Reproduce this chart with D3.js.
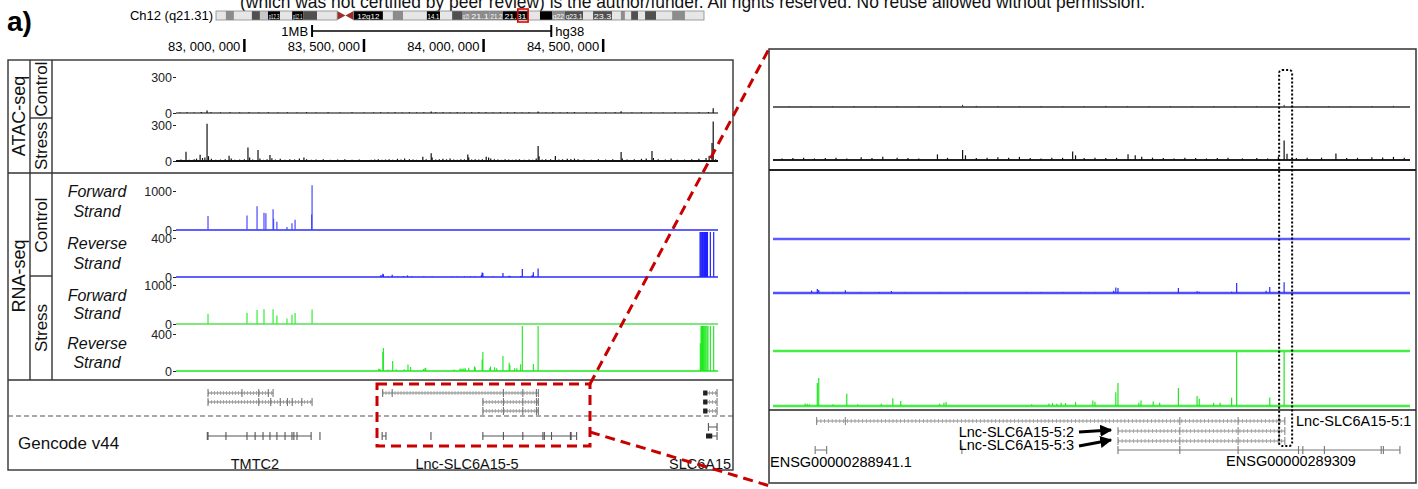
<!DOCTYPE html>
<html>
<head>
<meta charset="utf-8">
<script src="https://cdn.jsdelivr.net/npm/d3@7"></script>
<style>
  body { margin: 0; background: #fff; }
  svg text { font-family: "Liberation Sans", Arial, Helvetica, sans-serif; }
</style>
</head>
<body>
<svg id="chart" width="1418" height="489"></svg>
<script>
// ---- data (positions in Mb on chr12, hg38) ----
const regionMb = [82.71, 84.98];
const zoomMb = [83.516, 84.403];
const rulerTicks = [83.0, 83.5, 84.0, 84.5];
const scaleBarMb = [83.283, 84.283];
const chromLength = 133.3;

// [start, end, stain, label]
const ideoBands = [
  [0, 2.7, 'w'], [2.7, 4.9, 'g'], [4.9, 9.8, 'w'], [9.8, 12.0, 'd'], [12.0, 14.2, 'l'],
  [14.2, 17.5, 'k', 'p12.3'], [17.5, 20.8, 'w'], [20.8, 23.8, 'k', 'p12.1'], [23.8, 27.6, 'd'],
  [27.6, 33.1, 'w'], [33.1, 37.6, 'c'], [37.6, 45.6, 'k', '12q12'], [45.6, 48.3, 'w'],
  [48.3, 51.1, 'g'], [51.1, 57.6, 'w'], [57.6, 61.2, 'k', '14.1'], [61.2, 64.5, 'w'],
  [64.5, 67.2, 'd'], [67.2, 69.4, 'g', 'q15'], [69.4, 74.8, 'g', '21.1'], [74.8, 78.4, 'g', '21.2'],
  [78.4, 85.2, 'k', '21.31'], [85.2, 88.5, 'w'], [88.5, 91.8, 'k'], [91.8, 95.3, 'g', 'q22'],
  [95.3, 100.3, 'd', 'q23.1'], [100.3, 103.0, 'w'], [103.0, 108.2, 'd', '23.3'], [108.2, 110.6, 'w'],
  [110.6, 111.7, 'g'], [111.7, 113.4, 'w'], [113.4, 115.3, 'd'], [115.3, 117.2, 'w'],
  [117.2, 120.2, 'd'], [120.2, 124.6, 'w'], [124.6, 128.1, 'g'], [128.1, 133.3, 'w']
];

// [Mb, signal]
const atacControl = [
  [82.73, 5], [82.76, 6], [82.79, 5], [82.82, 8], [82.844, 20], [82.86, 6], [82.90, 5], [82.94, 6],
  [82.98, 5], [83.02, 6], [83.06, 5], [83.10, 6], [83.14, 5], [83.18, 6], [83.22, 5], [83.26, 7],
  [83.30, 5], [83.35, 6], [83.40, 5], [83.45, 6], [83.50, 5], [83.54, 5], [83.57, 6], [83.60, 5],
  [83.63, 6], [83.66, 5], [83.69, 6], [83.72, 5], [83.75, 6], [83.781, 13], [83.80, 7], [83.83, 6],
  [83.86, 5], [83.89, 6], [83.92, 5], [83.95, 6], [83.98, 7], [84.01, 6], [84.04, 5], [84.07, 6],
  [84.10, 5], [84.13, 6], [84.16, 5], [84.19, 6], [84.228, 13], [84.26, 5], [84.29, 6], [84.32, 5],
  [84.35, 6], [84.38, 7], [84.43, 5], [84.47, 6], [84.51, 5], [84.55, 6], [84.575, 15], [84.62, 5],
  [84.66, 6], [84.70, 7], [84.75, 5], [84.80, 6], [84.85, 5], [84.90, 6], [84.94, 8], [84.960, 40]
];
const atacStress = [
  [82.720, 8], [82.735, 12], [82.756, 78], [82.770, 10], [82.790, 15], [82.800, 20], [82.815, 52],
  [82.825, 25], [82.835, 30], [82.844, 310], [82.850, 40], [82.862, 18], [82.880, 10], [82.900, 12],
  [82.920, 15], [82.936, 44], [82.945, 20], [82.960, 10], [82.980, 12], [83.000, 15], [83.015, 112],
  [83.022, 30], [83.035, 12], [83.057, 91], [83.065, 20], [83.080, 10], [83.095, 15], [83.107, 50],
  [83.115, 22], [83.130, 12], [83.150, 18], [83.170, 10], [83.190, 14], [83.210, 12], [83.230, 20],
  [83.249, 30], [83.260, 15], [83.280, 10], [83.300, 12], [83.330, 14], [83.360, 10], [83.390, 12],
  [83.420, 15], [83.450, 10], [83.480, 12], [83.500, 8], [83.530, 10], [83.545, 12], [83.560, 14],
  [83.575, 10], [83.590, 12], [83.605, 15], [83.620, 10], [83.640, 18], [83.655, 12], [83.670, 20],
  [83.690, 15], [83.705, 12], [83.720, 10], [83.746, 36], [83.760, 14], [83.781, 64], [83.785, 30],
  [83.800, 12], [83.815, 15], [83.830, 18], [83.845, 14], [83.860, 20], [83.875, 12], [83.890, 10],
  [83.905, 15], [83.920, 14], [83.934, 54], [83.938, 30], [83.950, 12], [83.965, 15], [83.980, 12],
  [83.995, 14], [84.011, 36], [84.021, 30], [84.030, 20], [84.045, 15], [84.060, 12], [84.075, 10],
  [84.090, 14], [84.105, 12], [84.120, 10], [84.135, 12], [84.150, 14], [84.170, 10], [84.190, 12],
  [84.205, 10], [84.220, 20], [84.228, 125], [84.232, 40], [84.245, 12], [84.260, 14], [84.280, 15],
  [84.300, 41], [84.315, 12], [84.330, 14], [84.350, 18], [84.365, 16], [84.380, 20], [84.395, 14],
  [84.420, 12], [84.450, 10], [84.480, 15], [84.510, 12], [84.540, 14], [84.575, 76], [84.580, 20],
  [84.600, 12], [84.630, 15], [84.660, 18], [84.680, 20], [84.704, 83], [84.710, 25], [84.730, 15],
  [84.760, 12], [84.784, 20], [84.810, 10], [84.840, 12], [84.870, 15], [84.900, 18], [84.930, 25],
  [84.943, 44], [84.955, 150], [84.960, 330], [84.970, 15]
];
const rnaControlForward = [
  [82.848, 360], [83.011, 370], [83.053, 610], [83.082, 440], [83.090, 430], [83.120, 530],
  [83.122, 290], [83.136, 210], [83.178, 80], [83.199, 170], [83.212, 260], [83.281, 400], [83.283, 1150]
];
const rnaControlReverse = [
  [83.571, 20], [83.579, 33], [83.581, 25], [83.600, 5], [83.618, 22], [83.640, 5], [83.665, 8],
  [83.682, 16], [83.700, 4], [83.750, 5], [83.785, 4], [83.870, 5], [83.890, 6], [83.920, 5],
  [83.945, 6], [83.965, 5], [83.991, 19], [83.994, 46], [83.997, 41], [84.040, 6], [84.081, 41],
  [84.107, 14], [84.110, 10], [84.155, 11], [84.162, 82], [84.203, 19], [84.208, 49], [84.228, 87],
  [84.895, 5], [84.905, 1200], [84.908, 1200], [84.912, 1200], [84.915, 1200], [84.918, 1200],
  [84.921, 1200], [84.924, 1200], [84.928, 900], [84.932, 1200], [84.936, 1200], [84.948, 1200], [84.962, 1200]
];
const rnaStressForward = [
  [82.848, 260], [83.011, 290], [83.053, 360], [83.082, 380], [83.120, 380], [83.136, 220],
  [83.178, 140], [83.199, 235], [83.212, 280], [83.283, 370]
];
const rnaStressReverse = [
  [83.562, 23], [83.565, 20], [83.568, 15], [83.579, 205], [83.581, 249], [83.601, 15], [83.620, 108],
  [83.635, 15], [83.668, 20], [83.684, 70], [83.695, 44], [83.749, 20], [83.755, 29], [83.758, 35],
  [83.877, 15], [83.901, 23], [83.906, 26], [83.912, 20], [83.918, 29], [83.924, 26], [83.938, 35],
  [83.962, 50], [83.965, 38], [83.994, 123], [83.997, 205], [84.026, 29], [84.029, 50], [84.046, 41],
  [84.055, 29], [84.081, 161], [84.107, 88], [84.110, 64], [84.130, 29], [84.139, 29], [84.155, 73],
  [84.162, 1200], [84.208, 76], [84.228, 1200],
  [84.906, 300], [84.909, 1200], [84.912, 1200], [84.915, 1200], [84.918, 1200], [84.921, 1200],
  [84.925, 1200], [84.929, 1200], [84.934, 1200], [84.938, 1000], [84.948, 1200], [84.962, 1200]
];

// transcripts: [name, row, start, end, exons] (number = small exon, [s, e] = block)
const transcripts = [
  ['TMTC2-201', 0, 82.848, 83.120, [82.848, 82.99, 83.06, 83.10, 83.12]],
  ['TMTC2-202', 1, 82.848, 83.283, [82.848, 83.06, 83.11, 83.15, 83.18, 83.20, 83.24, 83.283]],
  ['Lnc-SLC6A15-5:1', 0, 83.578, 84.229, [83.578, 83.618, 84.083, 84.164, 84.221, 84.229]],
  ['Lnc-SLC6A15-5:2', 1, 83.997, 84.229, [83.997, 84.083, 84.164, 84.221, 84.229]],
  ['Lnc-SLC6A15-5:3', 2, 83.997, 84.229, [83.997, 84.083, 84.164, 84.221, 84.229]],
  ['SLC6A15-201', 0, 84.918, 84.976, [[84.918, 84.936], 84.976]],
  ['SLC6A15-202', 1, 84.918, 84.976, [[84.918, 84.936], 84.976]],
  ['SLC6A15-203', 2, 84.918, 84.976, [[84.918, 84.936], 84.976]]
];
// gencode genes: [name, row, start, end, exons]
const gencodeGenes = [
  ['TMTC2', 1, 82.845, 83.279, [82.845, 82.848, 82.923, 83.011, 83.045, 83.078, 83.107, 83.136, 83.170, 83.199, 83.207, 83.220, 83.279]],
  ['TMTC2-AS', 1, 83.316, 83.316, [83.316]],
  ['ENSG00000288941.1', 1, 83.576, 83.592, [83.576, 83.592]],
  ['ENSG00000288700', 1, 83.780, 83.780, [83.780]],
  ['ENSG00000289309', 1, 83.997, 84.389, [83.997, 84.083, 84.164, 84.248, 84.254, 84.284, 84.363, 84.366, 84.389]],
  ['SLC6A15-up', 0, 84.940, 84.976, [84.940, 84.976]],
  ['SLC6A15', 1, 84.930, 84.976, [[84.930, 84.956], 84.976]]
];
const geneLabels = [['TMTC2', 83.044], ['Lnc-SLC6A15-5', 83.931], ['SLC6A15', 84.905]];

// ---- drawing ----
const svg = d3.select('#chart');
const xL = d3.scaleLinear().domain(regionMb).range([175, 718]);
const xR = d3.scaleLinear().domain(zoomMb).range([772, 1410]);
const xI = d3.scaleLinear().domain([0, chromLength]).range([216, 704]);

// top (clipped) preprint notice
svg.append('text').attr('x', 240).attr('y', 8).attr('font-size', 19).attr('fill', '#111')
  .attr('textLength', 905).attr('lengthAdjust', 'spacingAndGlyphs')
  .text('(which was not certified by peer review) is the author/funder. All rights reserved. No reuse allowed without permission.');

svg.append('text').attr('x', 7).attr('y', 31).attr('font-size', 28).attr('font-weight', 'bold').text('a)');

// ideogram
const stainFill = { w: '#e6e6e6', l: '#c8c8c8', g: '#8c8c8c', d: '#505050', k: '#000' };
const ideo = svg.append('g');
const iy = 11, ih = 9;
svg.append('text').attr('x', 213).attr('y', 20).attr('font-size', 13).attr('text-anchor', 'end').text('Ch12 (q21.31)');
ideoBands.forEach(b => {
  const [s, e, st, lab] = b;
  if (st === 'c') {
    const m = xI((s + e) / 2);
    ideo.append('path').attr('d', `M${xI(s)},${iy}L${m},${iy + ih / 2}L${xI(s)},${iy + ih}Z`).attr('fill', '#9b2d2b');
    ideo.append('path').attr('d', `M${xI(e)},${iy}L${m},${iy + ih / 2}L${xI(e)},${iy + ih}Z`).attr('fill', '#9b2d2b');
    return;
  }
  ideo.append('rect').attr('x', xI(s)).attr('y', iy).attr('width', xI(e) - xI(s)).attr('height', ih)
    .attr('fill', stainFill[st]);
  if (lab) {
    ideo.append('text').attr('x', (xI(s) + xI(e)) / 2).attr('y', iy + ih - 1.5).attr('font-size', 8)
      .attr('text-anchor', 'middle').attr('fill', '#fff')
      .attr('textLength', Math.min(xI(e) - xI(s) - 1.5, lab.length * 4.4)).attr('lengthAdjust', 'spacingAndGlyphs')
      .text(lab);
  }
});
ideo.append('rect').attr('x', xI(0)).attr('y', iy).attr('width', xI(33.1) - xI(0)).attr('height', ih)
  .attr('fill', 'none').attr('stroke', '#888').attr('stroke-width', 0.8);
ideo.append('rect').attr('x', xI(37.6)).attr('y', iy).attr('width', xI(chromLength) - xI(37.6)).attr('height', ih)
  .attr('fill', 'none').attr('stroke', '#888').attr('stroke-width', 0.8);
ideo.append('rect').attr('x', xI(regionMb[0]) - 1).attr('y', iy - 2).attr('width', xI(regionMb[1]) - xI(regionMb[0]) + 2)
  .attr('height', ih + 4).attr('fill', 'none').attr('stroke', '#e00000').attr('stroke-width', 1.6);

// scale bar + ruler
const ruler = svg.append('g');
ruler.append('line').attr('x1', xL(scaleBarMb[0])).attr('x2', xL(scaleBarMb[1])).attr('y1', 31).attr('y2', 31).attr('stroke', '#000').attr('stroke-width', 1.3);
scaleBarMb.forEach(m => ruler.append('line').attr('x1', xL(m)).attr('x2', xL(m)).attr('y1', 25).attr('y2', 37).attr('stroke', '#000').attr('stroke-width', 2));
ruler.append('text').attr('x', xL(scaleBarMb[0]) - 4).attr('y', 36).attr('font-size', 13).attr('text-anchor', 'end').text('1MB');
ruler.append('text').attr('x', xL(scaleBarMb[1]) + 4).attr('y', 36).attr('font-size', 13).text('hg38');
const fmtMb = d => d3.format(',')(Math.round(d * 1e6)).replace(/,/g, ', ');
rulerTicks.forEach(m => {
  ruler.append('line').attr('x1', xL(m)).attr('x2', xL(m)).attr('y1', 39).attr('y2', 52).attr('stroke', '#000').attr('stroke-width', 2.5);
  ruler.append('text').attr('x', xL(m) - 4).attr('y', 51).attr('font-size', 13).attr('text-anchor', 'end').text(fmtMb(m));
});

// ---- left panel frame ----
const L = svg.append('g');
const frame = (g, x1, y1, x2, y2, w = 1.4, c = '#333', dash = null) =>
  g.append('line').attr('x1', x1).attr('y1', y1).attr('x2', x2).attr('y2', y2).attr('stroke', c).attr('stroke-width', w).attr('stroke-dasharray', dash);
L.append('rect').attr('x', 8).attr('y', 60).attr('width', 725).attr('height', 410).attr('fill', 'none').attr('stroke', '#333').attr('stroke-width', 1.4);
frame(L, 30, 60, 30, 380); frame(L, 52, 60, 52, 380);
frame(L, 30, 118, 52, 118); frame(L, 30, 276, 52, 276);
frame(L, 8, 173, 733, 173); frame(L, 8, 380, 733, 380);
frame(L, 8, 416, 733, 416, 1.2, '#555', '5 3');

const vlabel = (g, x, y, t, size) => g.append('text').attr('transform', `translate(${x},${y}) rotate(-90)`)
  .attr('text-anchor', 'middle').attr('font-size', size).attr('fill', '#111').text(t);
vlabel(L, 25, 116, 'ATAC-seq', 18);
vlabel(L, 25, 276, 'RNA-seq', 18);
vlabel(L, 47, 89, 'Control', 17);
vlabel(L, 47, 146, 'Stress', 17);
vlabel(L, 47, 225, 'Control', 17);
vlabel(L, 47, 328, 'Stress', 17);
[[192, 'Forward'], [212, 'Strand'], [244, 'Reverse'], [264, 'Strand'],
 [296, 'Forward'], [314, 'Strand'], [344, 'Reverse'], [363, 'Strand']].forEach(([y, t]) =>
  L.append('text').attr('x', 97).attr('y', y + 5).attr('text-anchor', 'middle').attr('font-size', 16)
    .attr('font-style', 'italic').attr('fill', '#111').text(t));

// tracks
function drawTrack(g, x, dom, data, o) {
  const y = d3.scaleLinear().domain([0, o.max]).range([o.base, o.top]);
  const pts = data.filter(d => d[0] >= dom[0] && d[0] <= dom[1]);
  g.append('line').attr('x1', x(dom[0]) + 1).attr('x2', x(dom[1])).attr('y1', o.base).attr('y2', o.base)
    .attr('stroke', o.baseColor).attr('stroke-width', o.baseWidth);
  g.append('g').selectAll('line').data(pts).join('line')
    .attr('x1', d => x(d[0])).attr('x2', d => x(d[0]))
    .attr('y1', o.base).attr('y2', d => Math.max(y(d[1]), o.cap))
    .attr('stroke', o.color).attr('stroke-width', o.barWidth);
  if (o.axis) {
    const ax = g.append('g').attr('transform', `translate(${o.axisX},0)`)
      .call(d3.axisLeft(y).tickValues([0, o.max]).tickSize(3).tickPadding(1).tickFormat(d3.format('d')));
    ax.select('.domain').remove();
    ax.selectAll('text').attr('font-size', 12.5).attr('font-family', '"Liberation Sans", Arial, sans-serif').attr('fill', '#222');
    ax.selectAll('.tick line').attr('stroke', '#222');
  }
  return y;
}
const blue = '#2b2bff', green = '#18e818';
const leftTracks = [
  [atacControl, { max: 300, base: 113, top: 77, cap: 70, color: '#111', baseColor: '#555', baseWidth: 1.5, barWidth: 1.2 }],
  [atacStress, { max: 300, base: 161, top: 125, cap: 120, color: '#111', baseColor: '#111', baseWidth: 2.2, barWidth: 1.2 }],
  [rnaControlForward, { max: 1000, base: 230, top: 191, cap: 183, color: '#4848ff', baseColor: blue, baseWidth: 1.6, barWidth: 1.2 }],
  [rnaControlReverse, { max: 400, base: 277, top: 238, cap: 232, color: '#2020ff', baseColor: blue, baseWidth: 1.6, barWidth: 1.2 }],
  [rnaStressForward, { max: 1000, base: 324, top: 285, cap: 279, color: '#33ee33', baseColor: '#7fe87f', baseWidth: 2.2, barWidth: 1.2 }],
  [rnaStressReverse, { max: 400, base: 371, top: 334, cap: 326, color: green, baseColor: green, baseWidth: 1.6, barWidth: 1.1 }]
];
leftTracks.forEach(([data, o]) => drawTrack(L, xL, regionMb, data, Object.assign({ axis: true, axisX: 176 }, o)));

// genes
function drawTranscripts(g, x, dom, rows, list, tick, lineColor) {
  list.forEach(([name, row, s, e, exons]) => {
    if (e < dom[0] || s > dom[1]) return;
    const y = rows[row];
    const x1 = x(Math.max(s, dom[0])), x2 = x(Math.min(e, dom[1]));
    if (x2 > x1) {
      g.append('line').attr('x1', x1).attr('x2', x2).attr('y1', y).attr('y2', y).attr('stroke', lineColor).attr('stroke-width', 1);
      if (tick) g.append('line').attr('x1', x1).attr('x2', x2).attr('y1', y).attr('y2', y)
        .attr('stroke', '#9a9a9a').attr('stroke-width', 4).attr('stroke-dasharray', tick);
    }
    exons.forEach(ex => {
      if (Array.isArray(ex)) {
        g.append('rect').attr('x', x(ex[0])).attr('y', y - 2.5).attr('width', Math.max(1, x(ex[1]) - x(ex[0])))
          .attr('height', 5).attr('fill', '#222');
      } else if (ex >= dom[0] && ex <= dom[1]) {
        g.append('line').attr('x1', x(ex)).attr('x2', x(ex)).attr('y1', y - 4).attr('y2', y + 4)
          .attr('stroke', lineColor).attr('stroke-width', 1.1);
      }
    });
  });
}
drawTranscripts(L, xL, regionMb, [393, 402, 411], transcripts, '0.8 2.2', '#777');
drawTranscripts(L, xL, regionMb, [427, 436], gencodeGenes, null, '#555');
L.append('text').attr('x', 18).attr('y', 449).attr('font-size', 17).attr('fill', '#111').text('Gencode v44');
geneLabels.forEach(([t, m]) => L.append('text').attr('x', xL(m)).attr('y', 469).attr('font-size', 14.5)
  .attr('text-anchor', 'middle').attr('fill', '#111').text(t));

// ---- right (zoomed) panel ----
const R = svg.append('g');
R.append('defs').append('clipPath').attr('id', 'rclip').append('rect').attr('x', 770).attr('y', 49).attr('width', 645).attr('height', 434);
const Rc = R.append('g').attr('clip-path', 'url(#rclip)');
const rightTracks = [
  [atacControl, { max: 300, base: 107, top: 57, cap: 55, color: '#333', baseColor: '#666', baseWidth: 2, barWidth: 1 }],
  [atacStress, { max: 300, base: 160, top: 113, cap: 108, color: '#111', baseColor: '#222', baseWidth: 2, barWidth: 1.2 }],
  [rnaControlForward, { max: 1000, base: 239, top: 180, cap: 175, color: '#2020ff', baseColor: '#5b5bff', baseWidth: 2.5, barWidth: 1.2 }],
  [rnaControlReverse, { max: 450, base: 293, top: 238, cap: 241, color: '#2a2aff', baseColor: '#5050ff', baseWidth: 2.5, barWidth: 1.2 }],
  [rnaStressForward, { max: 1000, base: 351, top: 296, cap: 296, color: green, baseColor: '#44ee44', baseWidth: 2.5, barWidth: 1.2 }],
  [rnaStressReverse, { max: 480, base: 406, top: 352, cap: 352, color: '#22e622', baseColor: '#44ee44', baseWidth: 2.5, barWidth: 1.2 }]
];
rightTracks.forEach(([data, o]) => drawTrack(Rc, xR, zoomMb, data, Object.assign({ axis: false }, o)));
drawTranscripts(Rc, xR, zoomMb, [421, 431, 441], transcripts, '0.8 3', '#8a8a8a');
drawTranscripts(Rc, xR, zoomMb, [442, 450], gencodeGenes, null, '#777');

R.append('rect').attr('x', 769).attr('y', 49).attr('width', 647).attr('height', 434).attr('fill', 'none').attr('stroke', '#333').attr('stroke-width', 1.5);
frame(R, 769, 170, 1416, 170, 1.8, '#222');
frame(R, 769, 410, 1416, 410, 1.6, '#222');

R.append('text').attr('x', 1296).attr('y', 426).attr('font-size', 14.5).text('Lnc-SLC6A15-5:1');
R.append('text').attr('x', 1074).attr('y', 437).attr('font-size', 14.5).attr('text-anchor', 'end').text('Lnc-SLC6A15-5:2');
R.append('text').attr('x', 1074).attr('y', 450).attr('font-size', 14.5).attr('text-anchor', 'end').text('Lnc-SLC6A15-5:3');
R.append('text').attr('x', 770).attr('y', 467).attr('font-size', 14.5).text('ENSG00000288941.1');
R.append('text').attr('x', 1291).attr('y', 466).attr('font-size', 14.5).attr('text-anchor', 'middle').text('ENSG00000289309');

R.append('defs').append('marker').attr('id', 'arr').attr('viewBox', '0 0 10 10').attr('refX', 9).attr('refY', 5)
  .attr('markerWidth', 4).attr('markerHeight', 4).attr('orient', 'auto')
  .append('path').attr('d', 'M0,0L10,5L0,10Z').attr('fill', '#000');
R.append('line').attr('x1', 1079).attr('y1', 432).attr('x2', 1111).attr('y2', 430).attr('stroke', '#000').attr('stroke-width', 3).attr('marker-end', 'url(#arr)');
R.append('line').attr('x1', 1079).attr('y1', 446).attr('x2', 1111).attr('y2', 440).attr('stroke', '#000').attr('stroke-width', 3).attr('marker-end', 'url(#arr)');

// dotted highlight around the peak at the lnc TSS
const hx = xR(84.228);
R.append('rect').attr('x', hx - 5).attr('y', 70).attr('width', 13).attr('height', 376).attr('rx', 3)
  .attr('fill', 'none').attr('stroke', '#000').attr('stroke-width', 2).attr('stroke-dasharray', '2 2');

// red zoom box and connectors
const red = '#c80000';
svg.append('rect').attr('x', 377).attr('y', 384).attr('width', 213).attr('height', 62).attr('fill', 'none')
  .attr('stroke', red).attr('stroke-width', 3).attr('stroke-dasharray', '10 6');
svg.append('line').attr('x1', 590).attr('y1', 384).attr('x2', 770).attr('y2', 47).attr('stroke', red).attr('stroke-width', 3).attr('stroke-dasharray', '10 6');
svg.append('line').attr('x1', 590).attr('y1', 432).attr('x2', 770).attr('y2', 486).attr('stroke', red).attr('stroke-width', 3).attr('stroke-dasharray', '10 6');
</script>
</body>
</html>
